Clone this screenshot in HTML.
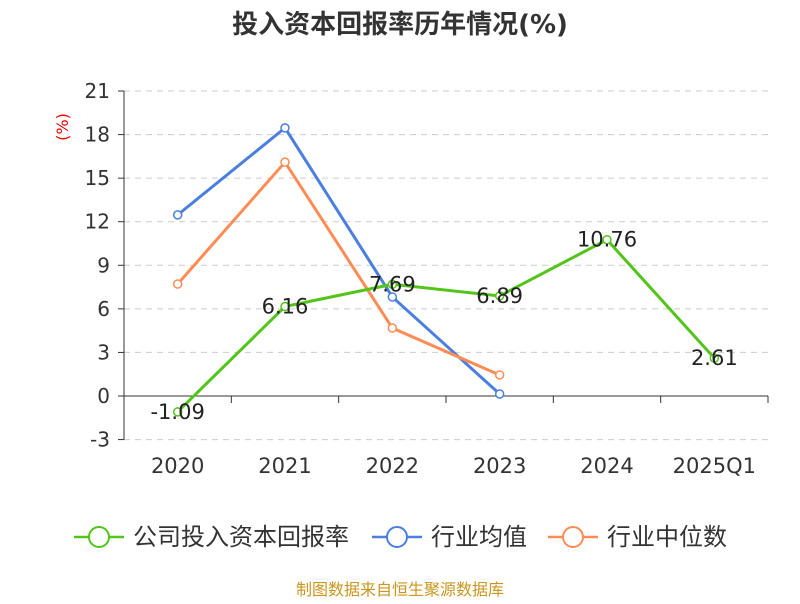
<!DOCTYPE html>
<html><head><meta charset="utf-8"><style>
body{margin:0;background:#fff;font-family:"DejaVu Sans","Noto Sans CJK SC",sans-serif;}
</style></head><body>
<svg id="chart" width="800" height="600" xmlns="http://www.w3.org/2000/svg" font-family="DejaVu Sans, Noto Sans CJK SC, sans-serif">
<text x="400" y="33" text-anchor="middle" font-size="26" font-weight="bold" fill="#333">投入资本回报率历年情况(%)</text>
<text x="68" y="127" font-size="16" fill="#e00" transform="rotate(-90 68 127)" text-anchor="middle">(%)</text>
<g id="grid"></g><g id="axes"></g><g id="series"></g>
<g font-size="24" fill="#333">
 <g><line x1="74" y1="537" x2="124" y2="537" stroke="#52c41a" stroke-width="2.5"/><circle cx="99" cy="537" r="10" fill="#fff" stroke="#52c41a" stroke-width="2"/><text x="133" y="545">公司投入资本回报率</text></g>
 <g><line x1="372" y1="537" x2="422" y2="537" stroke="#4a7fe0" stroke-width="2.5"/><circle cx="397" cy="537" r="10" fill="#fff" stroke="#4a7fe0" stroke-width="2"/><text x="431" y="545">行业均值</text></g>
 <g><line x1="548" y1="537" x2="598" y2="537" stroke="#ff8c55" stroke-width="2.5"/><circle cx="573" cy="537" r="10" fill="#fff" stroke="#ff8c55" stroke-width="2"/><text x="607" y="545">行业中位数</text></g>
</g>
<text x="400" y="595" text-anchor="middle" font-size="16" fill="#c8961e">制图数据来自恒生聚源数据库</text>
</svg>
<script>
const categories=["2020","2021","2022","2023","2024","2025Q1"];
const companyValues=[-1.09,6.16,7.69,6.89,10.76,2.61];
const averageValues=[12.47,18.46,6.82,0.14];
const medianValues=[7.71,16.1,4.68,1.45];
const yTicks=[-3,0,3,6,9,12,15,18,21];
const NS="http://www.w3.org/2000/svg";
const x0=124,x1=768,y=v=>396-v*305/21,step=(x1-x0)/categories.length,x=i=>x0+step*(i+0.5);
function mk(p,t,a){const e=document.createElementNS(NS,t);for(const k in a)e.setAttribute(k,a[k]);document.getElementById(p).appendChild(e);return e;}
yTicks.forEach(v=>{
 if(v!==0){const g=mk("grid","line",{x1:x0,x2:x1,y1:y(v),y2:y(v),stroke:"#ccc","stroke-dasharray":"6,5"});}
 const t=mk("axes","line",{x1:x0-6,x2:x0,y1:y(v),y2:y(v),stroke:"#333"});
 const l=mk("axes","text",{x:x0-14,y:y(v)+7,"text-anchor":"end","font-size":"20",fill:"#333"});l.textContent=v;
});
const ya=mk("axes","line",{x1:x0,x2:x0,y1:y(21),y2:y(-3),stroke:"#333"});
const xa=mk("axes","line",{x1:x0,x2:x1,y1:y(0),y2:y(0),stroke:"#333"});
for(let i=0;i<=categories.length;i++){const t=mk("axes","line",{x1:x0+step*i,x2:x0+step*i,y1:y(0),y2:y(0)+7,stroke:"#333"});}
categories.forEach((c,i)=>{const l=mk("axes","text",{x:x(i),y:473,"text-anchor":"middle","font-size":"21",fill:"#333"});l.textContent=c;});
function series(vals,color,name,labels){
 const pl=mk("series","polyline",{points:vals.map((v,i)=>x(i)+","+y(v)).join(" "),fill:"none",stroke:color,"stroke-width":"3"});
 
 vals.forEach((v,i)=>{const c=mk("series","circle",{cx:x(i),cy:y(v),r:4,fill:"#fff",stroke:color,"stroke-width":"1.5"});
  if(labels){const t=mk("series","text",{x:x(i),y:y(v)+7,"text-anchor":"middle","font-size":"21",fill:"#222"});t.textContent=v.toFixed(2);}});
}
series(averageValues,"#4a7fe0","industry-average",false);
series(medianValues,"#ff8c55","industry-median",false);
series(companyValues,"#52c41a","company",true);
</script>
</body></html>
